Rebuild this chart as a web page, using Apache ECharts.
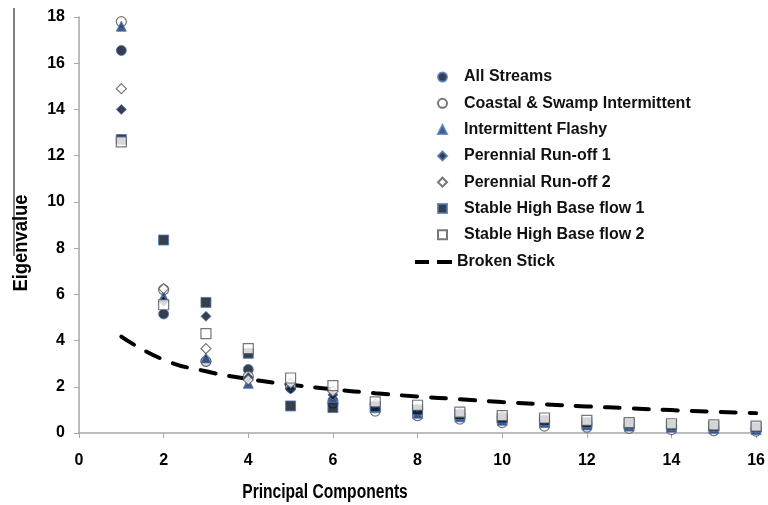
<!DOCTYPE html>
<html><head><meta charset="utf-8">
<script src="https://cdn.jsdelivr.net/npm/echarts@6/dist/echarts.min.js"></script>
<style>html,body{margin:0;padding:0;background:#fff}#c{width:768px;height:505px}</style>
</head><body><div id="c"></div>
<script>
const components = [1,2,3,4,5,6,7,8,9,10,11,12,13,14,15,16];
const allStreams   = [16.55,5.15,3.1,2.75,1.95,1.4,1.05,0.9,0.7,0.55,0.45,0.35,0.28,0.22,0.18,0.15];
const coastalSwamp = [17.8,6.2,3.1,2.45,2.0,1.3,0.95,0.75,0.6,0.45,0.3,0.25,0.2,0.15,0.1,0.08];
const intermFlashy = [17.6,5.9,3.25,2.15,2.1,1.5,1.1,0.85,0.7,0.55,0.45,0.35,0.3,0.25,0.2,0.15];
const perennial1   = [14.0,5.7,5.05,2.4,1.9,1.65,1.2,1.0,0.8,0.65,0.5,0.42,0.35,0.3,0.25,0.2];
const perennial2   = [14.9,6.25,3.65,2.3,2.15,1.8,1.25,1.05,0.85,0.7,0.55,0.45,0.35,0.3,0.25,0.2];
const stableHB1    = [12.7,8.35,5.65,3.45,1.17,1.1,1.15,1.0,0.8,0.65,0.55,0.45,0.4,0.35,0.3,0.25];
const stableHB2    = [12.6,5.55,4.3,3.65,2.38,2.05,1.35,1.2,0.9,0.75,0.65,0.55,0.45,0.4,0.35,0.3];
const brokenStick  = [4.17,3.17,2.67,2.34,2.09,1.89,1.72,1.58,1.46,1.34,1.24,1.15,1.07,0.99,0.92,0.86];
const xTicks = [0,2,4,6,8,10,12,14,16];
const yTicks = [0,2,4,6,8,10,12,14,16,18];
const xTitle = 'Principal Components';
const yTitle = 'Eigenvalue';

const pairs = arr => components.map((c,i)=>[c,arr[i]]);
const FONT = '"Liberation Sans",Arial,sans-serif';
const filled = {color:'#080e20', borderColor:'#4a78b8', borderWidth:1};
const hollow = {color:'#ffffff', borderColor:'#555555', borderWidth:1.2};

function sc(name, arr, symbol, size, style){
  return {name, type:'scatter', data:pairs(arr), symbol, symbolSize:size, itemStyle:style, z:3};
}
const legendText = {fontFamily:FONT, fontWeight:'bold', fontSize:16, color:'#111'};

const chart = echarts.init(document.getElementById('c'));
chart.setOption({
  animation:false,
  grid:{left:79, top:17, width:678, height:416, containLabel:false},
  xAxis:{type:'value', min:0, max:16, interval:2,
    axisLine:{show:true, onZero:false, lineStyle:{color:'#a6a6a6', width:1.5}},
    axisTick:{show:true, inside:false, length:5, lineStyle:{color:'#a6a6a6'}},
    splitLine:{show:false},
    axisLabel:{fontFamily:FONT, fontWeight:'bold', fontSize:16, color:'#000', margin:20,
      formatter:v=>xTicks.includes(v)?String(v):''}},
  yAxis:{type:'value', min:0, max:18, interval:2,
    axisLine:{show:true, lineStyle:{color:'#a6a6a6', width:1.5}},
    axisTick:{show:true, inside:false, length:5, lineStyle:{color:'#a6a6a6'}},
    splitLine:{show:false},
    axisLabel:{fontFamily:FONT, fontWeight:'bold', fontSize:16, color:'#000', margin:14,
      formatter:v=>yTicks.includes(v)?String(v):''}},
  legend:[
    {orient:'vertical', left:432, top:64, itemGap:10.3, itemWidth:9, itemHeight:9,
      textStyle:Object.assign({padding:[0,0,0,12]}, legendText),
      data:[
        {name:'All Streams', icon:'circle'},
        {name:'Coastal & Swamp Intermittent', icon:'circle'},
        {name:'Intermittent Flashy', icon:'triangle'},
        {name:'Perennial Run-off 1', icon:'diamond'},
        {name:'Perennial Run-off 2', icon:'diamond'},
        {name:'Stable High Base flow 1', icon:'rect'},
        {name:'Stable High Base flow 2', icon:'rect'}
      ]},
    {orient:'vertical', left:410, top:249, itemWidth:37, itemHeight:4, symbolKeepAspect:false,
      textStyle:legendText,
      data:[{name:'Broken Stick', icon:'path://M0,0h14v4h-14z M22,0h15v4h-15z',
        itemStyle:{color:'#000', borderWidth:0}}]}
  ],
  graphic:[
    {type:'line', shape:{x1:14, y1:8, x2:14, y2:256}, style:{stroke:'#000', lineWidth:1}},
    {type:'text', x:21, y:243, rotation:Math.PI/2, scaleX:0.92,
      style:{text:yTitle, fontFamily:FONT, fontWeight:'bold', fontSize:20, fill:'#000', align:'center', verticalAlign:'middle'}},
    {type:'text', x:325, y:492, scaleX:0.78,
      style:{text:xTitle, fontFamily:FONT, fontWeight:'bold', fontSize:20, fill:'#000', align:'center', verticalAlign:'middle'}}
  ],
  series:[
    {name:'Broken Stick', type:'line', data:pairs(brokenStick), smooth:true, showSymbol:false, symbol:'none',
      lineStyle:{color:'#000', width:4, type:[15,14], cap:'round'}, itemStyle:{color:'#000'}, z:2},
    sc('All Streams', allStreams, 'circle', 10, filled),
    sc('Coastal & Swamp Intermittent', coastalSwamp, 'circle', 10, hollow),
    sc('Intermittent Flashy', intermFlashy, 'triangle', 10, {color:'#17306a', borderColor:'#4a78b8', borderWidth:1}),
    sc('Perennial Run-off 1', perennial1, 'diamond', 10, filled),
    sc('Perennial Run-off 2', perennial2, 'diamond', 10, hollow),
    sc('Stable High Base flow 1', stableHB1, 'rect', 10, filled),
    sc('Stable High Base flow 2', stableHB2, 'rect', 10, hollow)
  ]
});
</script></body></html>
